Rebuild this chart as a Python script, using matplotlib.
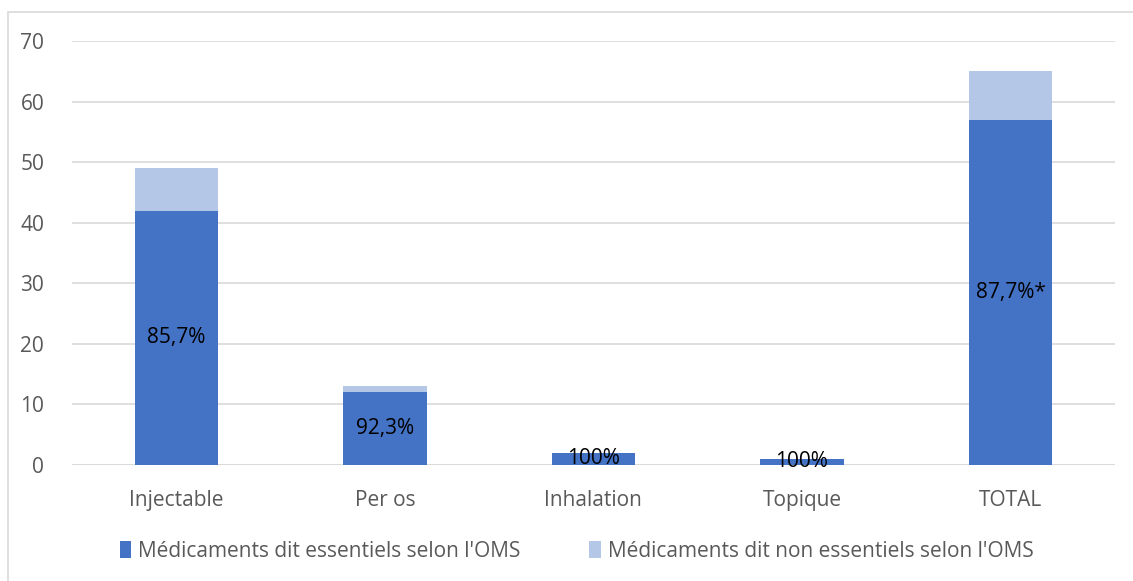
import matplotlib
matplotlib.use("Agg")
import matplotlib.pyplot as plt
from matplotlib.patches import Rectangle
import numpy as np

plt.rcParams['font.family'] = ['Open Sans', 'DejaVu Sans']

categories = ["Injectable", "Per os", "Inhalation", "Topique", "TOTAL"]
essentiels = [42, 12, 2, 1, 57]
non_essentiels = [7, 1, 0, 0, 8]
labels = ["85,7%", "92,3%", "100%", "100%", "87,7%*"]
yticks = [0, 10, 20, 30, 40, 50, 60, 70]

c_ess = "#4472C4"
c_non = "#B4C7E7"
fs = 15

fig = plt.figure(figsize=(11.33, 5.81), dpi=100)
ax = fig.add_axes([0.0635, 0.2, 0.9205, 0.7294])

x = np.arange(len(categories))
w = 0.4
ax.bar(x, essentiels, w, color=c_ess, label="Médicaments dit essentiels selon l'OMS", zorder=3)
ax.bar(x, non_essentiels, w, bottom=essentiels, color=c_non,
       label="Médicaments dit non essentiels selon l'OMS", zorder=3)

for xi, v, lab in zip(x, essentiels, labels):
    ax.text(xi, v / 2, lab, ha="center", va="center", fontsize=fs, color="black", zorder=4)

ax.set_xlim(-0.5, len(categories) - 0.5)
ax.set_ylim(0, 70)
ax.set_yticks(yticks)
ax.set_xticks(x)
ax.set_xticklabels(categories)
ax.tick_params(axis="both", length=0, labelsize=fs, colors="#595959")
ax.tick_params(axis="y", pad=20)
ax.tick_params(axis="x", pad=18)
ax.yaxis.grid(True, color="#D9D9D9", linewidth=1.2, zorder=0)
for s in ax.spines.values():
    s.set_visible(False)
ax.axhline(0, color="#D9D9D9", linewidth=1.2, zorder=2)

leg = fig.legend(loc="center", bbox_to_anchor=(0.509, 0.051), ncol=2, frameon=False,
                 fontsize=fs, handlelength=0.55, handleheight=0.9, handletextpad=0.35,
                 columnspacing=3.3)
for t in leg.get_texts():
    t.set_color("#595959")

fig.patches.append(Rectangle((8 / 1133, -0.05), 1.1, 1 - 12 / 581 + 0.05,
                             transform=fig.transFigure, fill=False,
                             edgecolor="#D9D9D9", linewidth=1.2))

fig.savefig("out.png", dpi=100)
